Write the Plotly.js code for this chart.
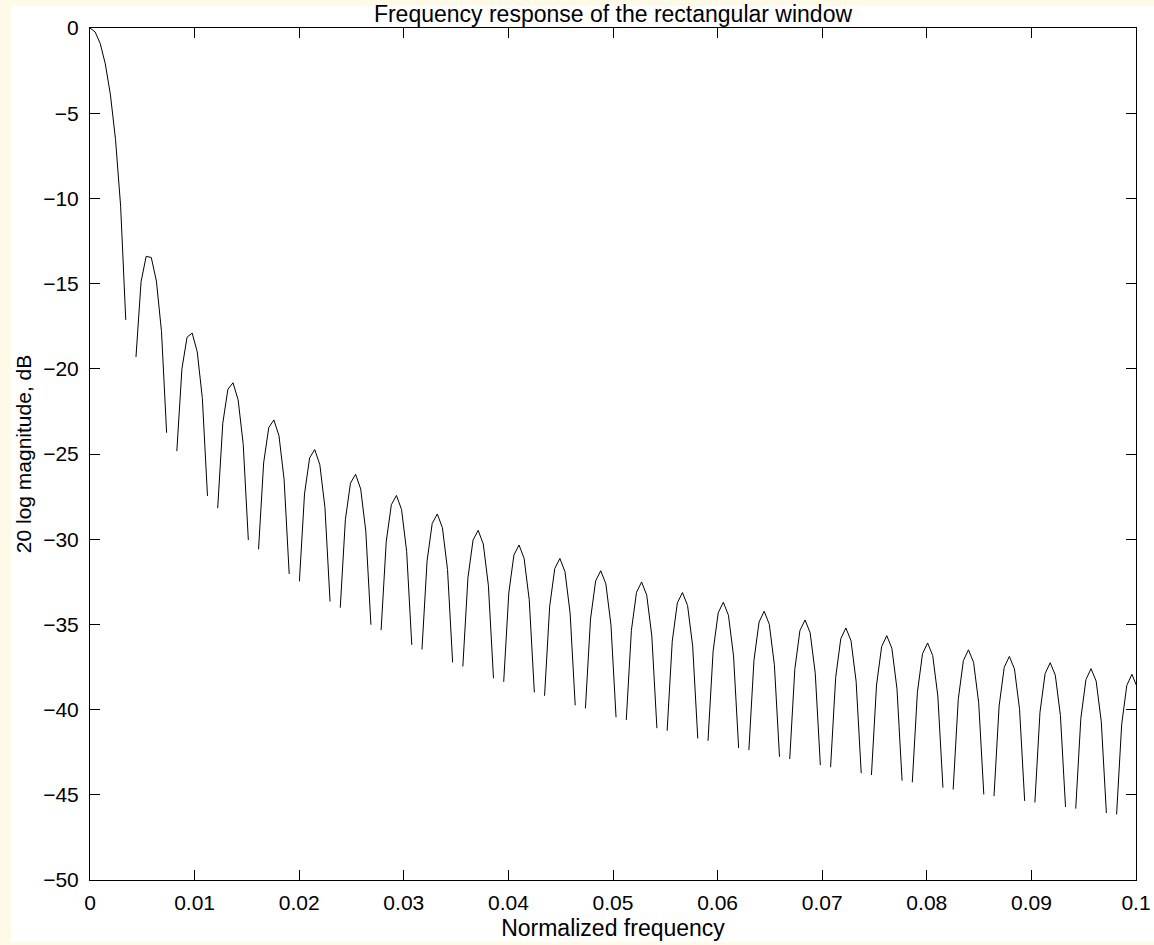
<!DOCTYPE html>
<html>
<head>
<meta charset="utf-8">
<script src="https://cdn.plot.ly/plotly-3.0.1.min.js"></script>
<style>
  html, body { margin: 0; padding: 0; background: #fffae8; width: 1154px; height: 945px; overflow: hidden; }
  #sheet { position: absolute; left: 11px; top: 6px; width: 1143px; height: 936px; background: #ffffff; }
  #plot { position: absolute; left: 0; top: 0; width: 1154px; height: 945px; }
</style>
</head>
<body>
<div id="sheet"></div>
<div id="plot"></div>
<script>
// Frequency sampling of the curve (bin spacing: 8 samples per sidelobe)
const freqStart = 0;
const freqStep = 1 / 2048;

// 20 log magnitude (dB); null = gap at the nulls of the response
const magnitudeDb = [
  0, -0.23, -0.91, -2.11, -3.92, -6.55, -10.46, -17.13, null,
  -19.31, -14.89, -13.40, -13.47, -14.85, -17.82, -23.75, null,
  -24.83, -20.00, -18.15, -17.90, -19.01, -21.74, -27.46, null,
  -28.18, -23.19, -21.20, -20.82, -21.82, -24.43, -30.05, null,
  -30.59, -25.52, -23.45, -23.00, -23.93, -26.48, -32.04, null,
  -32.47, -27.35, -25.23, -24.74, -25.63, -28.14, -33.66, null,
  -34.02, -28.86, -26.71, -26.19, -27.05, -29.53, -35.02, null,
  -35.33, -30.15, -27.98, -27.43, -28.26, -30.73, -36.20, null,
  -36.47, -31.27, -29.08, -28.52, -29.33, -31.78, -37.23, null,
  -37.47, -32.26, -30.05, -29.48, -30.28, -32.71, -38.16, null,
  -38.37, -33.15, -30.93, -30.34, -31.13, -33.56, -38.99, null,
  -39.19, -33.95, -31.72, -31.13, -31.91, -34.33, -39.75, null,
  -39.93, -34.68, -32.45, -31.85, -32.62, -35.03, -40.45, null,
  -40.61, -35.36, -33.12, -32.51, -33.28, -35.68, -41.09, null,
  -41.24, -35.99, -33.74, -33.13, -33.89, -36.28, -41.69, null,
  -41.83, -36.57, -34.32, -33.70, -34.46, -36.85, -42.25, null,
  -42.38, -37.11, -34.86, -34.23, -34.99, -37.37, -42.77, null,
  -42.90, -37.63, -35.36, -34.74, -35.49, -37.87, -43.26, null,
  -43.38, -38.11, -35.84, -35.21, -35.96, -38.34, -43.73, null,
  -43.84, -38.56, -36.30, -35.66, -36.40, -38.78, -44.17, null,
  -44.27, -38.99, -36.72, -36.09, -36.83, -39.20, -44.58, null,
  -44.69, -39.40, -37.13, -36.49, -37.23, -39.60, -44.98, null,
  -45.08, -39.79, -37.52, -36.88, -37.61, -39.98, -45.36, null,
  -45.45, -40.16, -37.89, -37.25, -37.98, -40.34, -45.72, null,
  -45.81, -40.52, -38.24, -37.60, -38.33, -40.69, -46.07, null,
  -46.15, -40.86, -38.58, -37.93, -38.66
];

const xTickVals = [0, 0.01, 0.02, 0.03, 0.04, 0.05, 0.06, 0.07, 0.08, 0.09, 0.1];
const xTickText = ['0', '0.01', '0.02', '0.03', '0.04', '0.05', '0.06', '0.07', '0.08', '0.09', '0.1'];
const yTickVals = [0, -5, -10, -15, -20, -25, -30, -35, -40, -45, -50];
const yTickText = ['0', '\u22125', '\u221210', '\u221215', '\u221220', '\u221225', '\u221230', '\u221235', '\u221240', '\u221245', '\u221250'];

const titleText = 'Frequency response of the rectangular window';
const xTitle = 'Normalized frequency';
const yTitle = '20 log magnitude, dB';

const freq = magnitudeDb.map((_, i) => freqStart + i * freqStep);

const font = '"Liberation Sans", Arial, Helvetica, sans-serif';

const axisCommon = {
  showline: true, linecolor: '#000', linewidth: 1, mirror: 'ticks',
  ticks: 'inside', ticklen: 10, tickwidth: 1, tickcolor: '#000',
  showgrid: false, zeroline: false,
  tickfont: { family: font, size: 21, color: '#000' },
  tickmode: 'array'
};

Plotly.newPlot('plot', [{
  x: freq, y: magnitudeDb, type: 'scatter', mode: 'lines',
  line: { color: '#000', width: 1 }, connectgaps: false, hoverinfo: 'skip'
}], {
  width: 1154, height: 945,
  paper_bgcolor: 'rgba(0,0,0,0)', plot_bgcolor: '#ffffff',
  margin: { l: 90, r: 18, t: 28, b: 65 },
  showlegend: false,
  title: { text: titleText, font: { family: font, size: 23, color: '#000' }, x: 0.5, xanchor: 'center', xref: 'paper', y: 0.9852, yref: 'container', yanchor: 'middle' },
  xaxis: Object.assign({}, axisCommon, {
    range: [0, 0.1], tickvals: xTickVals, ticktext: xTickText, ticklabelstandoff: 4,
    title: { text: xTitle, font: { family: font, size: 23, color: '#000' }, standoff: 6 }
  }),
  yaxis: Object.assign({}, axisCommon, {
    range: [-50, 0], tickvals: yTickVals, ticktext: yTickText, ticklabelstandoff: 6,
    title: { text: yTitle, font: { family: font, size: 21, color: '#000' }, standoff: 5 }
  })
}, { staticPlot: true });
</script>
</body>
</html>
